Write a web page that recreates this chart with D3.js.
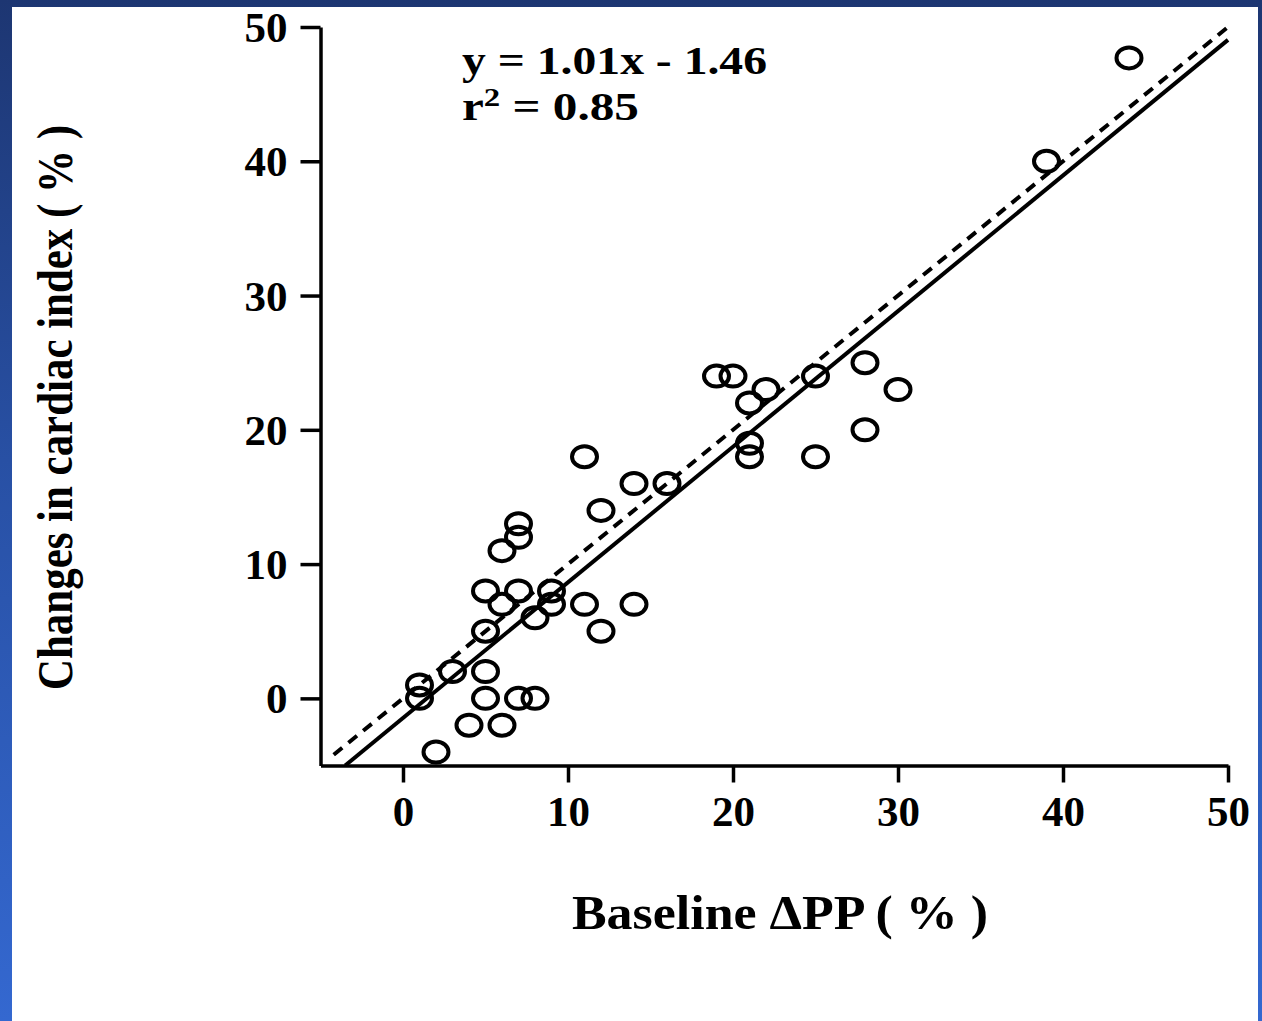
<!DOCTYPE html>
<html>
<head>
<meta charset="utf-8">
<script src="https://cdn.jsdelivr.net/npm/d3@7/dist/d3.min.js"></script>
<style>
  html, body { margin: 0; padding: 0; background: #fff; }
  svg { display: block; }
</style>
</head>
<body>
<svg id="chart" width="1262" height="1021"></svg>
<script>
// ---- data ----
const baselineDPP = [44, 39, 28, 30, 28, 25, 25, 19, 20, 22, 21, 21, 21, 16, 14, 11, 12, 11, 12, 14,
                     7, 7, 6, 5, 7, 6, 9, 9, 8, 5, 5, 3, 1, 1, 5, 7, 8, 4, 6, 2];
const changeCI    = [47.7, 40, 25, 23, 20, 24, 18, 24, 24, 23, 22, 19, 18, 16, 16, 18, 14, 7, 5, 7,
                     13, 12, 11, 8, 8, 7, 8, 7, 6, 5, 2, 2, 1, 0, 0, 0, 0, -2, -2, -4];
const tickValues  = [0, 10, 20, 30, 40, 50];
const regression  = { slope: 1.01, intercept: -1.46 };
const identity    = { slope: 1, intercept: 0 };
const eqLine1 = "y = 1.01x - 1.46";
const eqR2    = "0.85";
const xTitle  = "Baseline \u0394PP ( % )";
const yTitle  = "Changes in cardiac index ( % )";

// ---- setup ----
const svg = d3.select("#chart");
const W = 1262, H = 1021;
const FONT = "'Liberation Serif', 'Times New Roman', serif";

// frame background
const defs = svg.append("defs");
const grad = defs.append("linearGradient").attr("id", "frameGrad")
  .attr("x1", 0).attr("y1", 0).attr("x2", 0).attr("y2", 1);
grad.append("stop").attr("offset", "0%").attr("stop-color", "#1d3672");
grad.append("stop").attr("offset", "45%").attr("stop-color", "#2850a4");
grad.append("stop").attr("offset", "100%").attr("stop-color", "#3468d0");
svg.append("rect").attr("width", W).attr("height", H).attr("fill", "url(#frameGrad)");
svg.append("rect").attr("x", 12).attr("y", 7).attr("width", 1246).attr("height", H - 7).attr("fill", "#fff");

const x = d3.scaleLinear().domain([-5, 50]).range([320.5, 1228]);
const y = d3.scaleLinear().domain([-5, 50]).range([765.5, 27]);

const ink = "#000";

// axes
const yAxis = d3.axisLeft(y).tickValues(tickValues).tickSize(20).tickSizeOuter(0).tickPadding(13);
const xAxis = d3.axisBottom(x).tickValues(tickValues).tickSize(17).tickSizeOuter(0).tickPadding(10);

const gy = svg.append("g").attr("transform", `translate(${x(-5)},0)`).call(yAxis);
const gx = svg.append("g").attr("transform", `translate(0,${y(-5)})`).call(xAxis);

[gx, gy].forEach(g => {
  g.selectAll("path.domain").attr("stroke", ink).attr("stroke-width", 3.5);
  g.selectAll(".tick line").attr("stroke", ink).attr("stroke-width", 3.5);
  g.selectAll(".tick text")
    .attr("fill", ink)
    .style("font-family", FONT)
    .style("font-weight", "bold")
    .style("font-size", "43px");
});
gy.selectAll(".tick text").attr("dy", "0.34em");
gx.selectAll(".tick text").attr("dy", "0.78em");

function lineEnds(l, x0, x1) {
  return [[x0, l.slope * x0 + l.intercept], [x1, l.slope * x1 + l.intercept]];
}
const lineGen = d3.line().x(d => x(d[0])).y(d => y(d[1]));

// regression line (solid) and identity line (dashed)
const solidStart = (-5 - regression.intercept) / regression.slope;
svg.append("path")
  .attr("d", lineGen(lineEnds(regression, solidStart, 50)))
  .attr("stroke", ink).attr("stroke-width", 4).attr("fill", "none");

svg.append("path")
  .attr("d", lineGen(lineEnds(identity, -4.2, 50)))
  .attr("stroke", ink).attr("stroke-width", 4).attr("fill", "none")
  .attr("stroke-dasharray", "11,8");

// points
const pts = baselineDPP.map((v, i) => ({ x: v, y: changeCI[i] }));
svg.append("g").selectAll("ellipse").data(pts).join("ellipse")
  .attr("cx", d => x(d.x)).attr("cy", d => y(d.y))
  .attr("rx", 12.5).attr("ry", 10.5)
  .attr("fill", "none").attr("stroke", ink).attr("stroke-width", 4);

// equation
const eq = svg.append("g").style("font-family", FONT).style("font-weight", "bold").attr("fill", ink);
eq.append("text").attr("x", 462).attr("y", 74).style("font-size", "39px")
  .attr("textLength", 305).attr("lengthAdjust", "spacingAndGlyphs").text(eqLine1);
const t2 = eq.append("text").attr("x", 462).attr("y", 120).style("font-size", "39px")
  .attr("textLength", 177).attr("lengthAdjust", "spacingAndGlyphs");
t2.append("tspan").text("r");
t2.append("tspan").attr("dy", -14).style("font-size", "26px").text("2");
t2.append("tspan").attr("dy", 14).text(" = " + eqR2);

// axis titles
svg.append("text")
  .attr("x", 572).attr("y", 929)
  .attr("textLength", 416).attr("lengthAdjust", "spacingAndGlyphs")
  .style("font-family", FONT).style("font-weight", "bold").style("font-size", "48px")
  .attr("fill", ink).text(xTitle);

svg.append("text")
  .attr("transform", `translate(72,690) rotate(-90) scale(1,1.1)`)
  .attr("x", 0).attr("y", 0)
  .attr("textLength", 565).attr("lengthAdjust", "spacingAndGlyphs")
  .style("font-family", FONT).style("font-weight", "bold").style("font-size", "46px")
  .attr("fill", ink).text(yTitle);
</script>
</body>
</html>
